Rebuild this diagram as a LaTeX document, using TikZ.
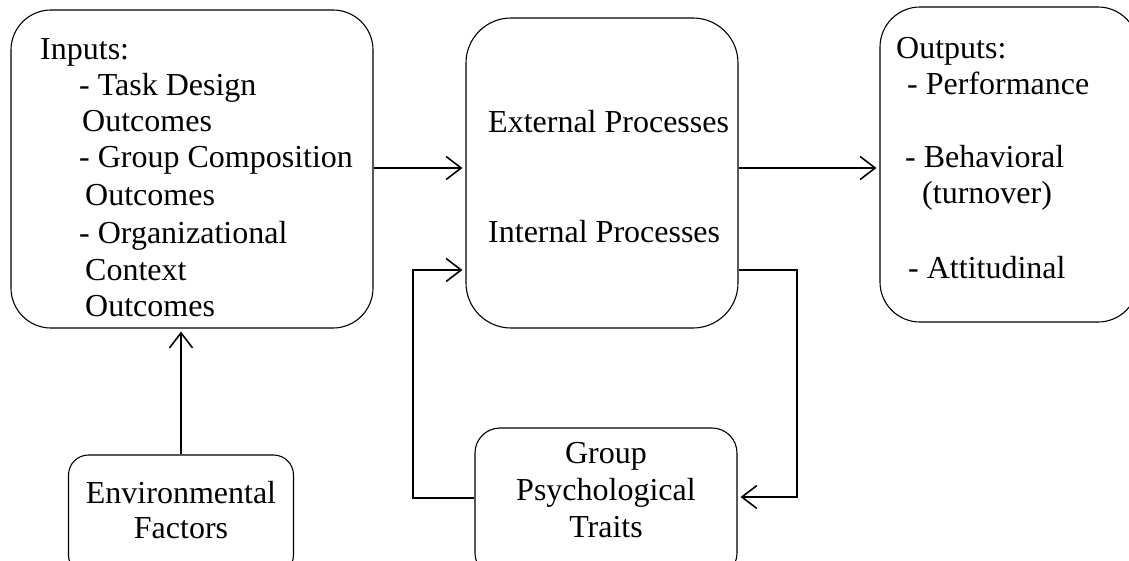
\documentclass[tikz,border=0pt]{standalone}
\usepackage{fontspec}
\setmainfont{Liberation Serif}
\usetikzlibrary{arrows.meta}
\begin{document}
\begin{tikzpicture}[x=1pt,y=-1pt,
  box/.style={draw, line width=1.1pt, inner sep=0pt, rectangle},
  conn/.style={line width=1.7pt},
  arr/.style={conn, -{Straight Barb[length=15pt,width=23pt,line width=1.6pt]}, shorten >=3pt},
  txt/.style={inner sep=0pt, font=\fontsize{32}{36}\selectfont}]
\useasboundingbox (0,0) rectangle (1129,560);
% boxes
\node[box, rounded corners=40pt, minimum width=362pt, minimum height=318pt] (inp) at (192,169) {};
\node[box, rounded corners=45pt, minimum width=272pt, minimum height=310pt] (mid) at (602,173) {};
\node[box, rounded corners=40pt, minimum width=258pt, minimum height=315pt] (out) at (1009,164.5) {};
\node[box, rounded corners=20pt, minimum width=225pt, minimum height=120pt] (env) at (181,515) {};
\node[box, rounded corners=25pt, minimum width=262pt, minimum height=150pt] (grp) at (606,503) {};
% texts
\node[txt, anchor=base west] (t1) at (40,59) {Inputs:};
\node[txt, anchor=base west] (t2) at (79,95) {- Task Design};
\node[txt, anchor=base west] (t3) at (82,131) {Outcomes};
\node[txt, anchor=base west] (t4) at (79,167) {- Group Composition};
\node[txt, anchor=base west] (t5) at (85,205) {Outcomes};
\node[txt, anchor=base west] (t6) at (79,243) {- Organizational};
\node[txt, anchor=base west] (t7) at (85,280) {Context};
\node[txt, anchor=base west] (t8) at (85,316) {Outcomes};
\node[txt, anchor=base west] (m1) at (488,132) {External Processes};
\node[txt, anchor=base west] (m2) at (488,242) {Internal Processes};
\node[txt, anchor=base west] (o1) at (896,58) {Outputs:};
\node[txt, anchor=base west] (o2) at (907,94) {- Performance};
\node[txt, anchor=base west] (o3) at (905,167) {- Behavioral};
\node[txt, anchor=base west] (o4) at (922,203) {(turnover)};
\node[txt, anchor=base west] (o5) at (908,278) {- Attitudinal};
\node[txt, anchor=base] (e1) at (env.center |- 0,503) {Environmental};
\node[txt, anchor=base] (e2) at (env.center |- 0,538) {Factors};
\node[txt, anchor=base] (g1) at (grp.center |- 0,463) {Group};
\node[txt, anchor=base] (g2) at (grp.center |- 0,500) {Psychological};
\node[txt, anchor=base] (g3) at (grp.center |- 0,537) {Traits};
% connectors
\coordinate (yA) at (0,168);
\coordinate (yB) at (0,270);
\coordinate (fr) at (797,497);
\coordinate (fl) at (413,270);
\coordinate (yC) at (0,498);
\draw[arr] (inp.east |- yA) -- (mid.west |- yA);
\draw[arr] (mid.east |- yA) -- (out.west |- yA);
\draw[arr] (env.north) -- (env.north |- inp.south);
\draw[arr] (mid.east |- yB) -| (fr) -- (grp.east |- fr);
\draw[arr] (grp.west |- yC) -| (fl) -- (mid.west |- fl);
\end{tikzpicture}
\end{document}
